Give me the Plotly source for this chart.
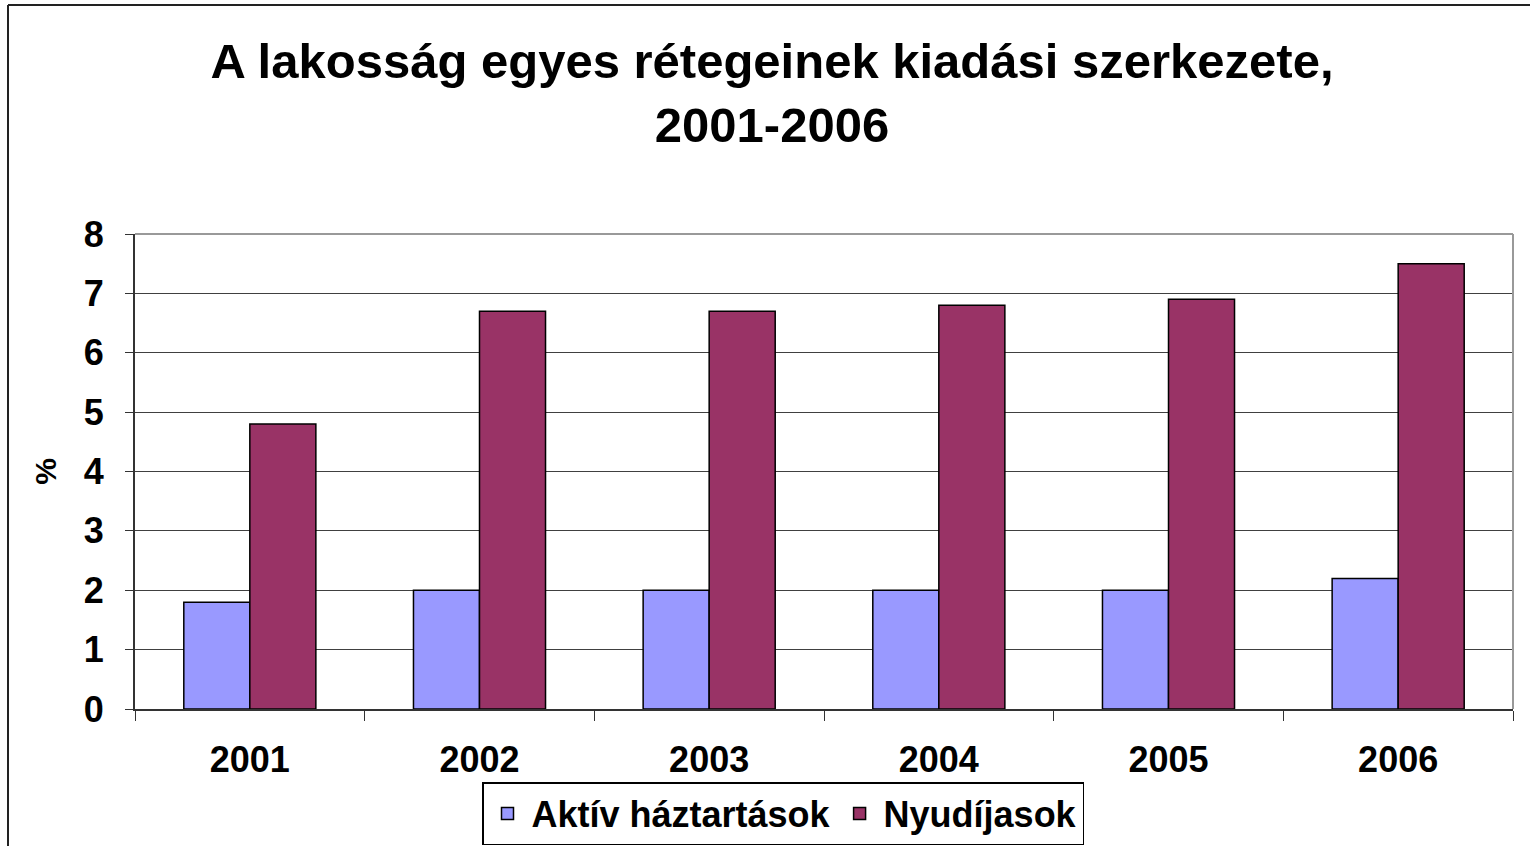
import plotly.graph_objects as go

years = ["2001", "2002", "2003", "2004", "2005", "2006"]
aktiv = [1.8, 2.0, 2.0, 2.0, 2.0, 2.2]
nyugdijas = [4.8, 6.7, 6.7, 6.8, 6.9, 7.5]
y_ticks = [0, 1, 2, 3, 4, 5, 6, 7, 8]

FONT = "Liberation Sans, Arial, sans-serif"

fig = go.Figure()
fig.add_trace(go.Bar(name="Aktív háztartások", x=years, y=aktiv,
                     marker=dict(color="#9999FF", line=dict(color="black", width=1.5))))
fig.add_trace(go.Bar(name="Nyudíjasok", x=years, y=nyugdijas,
                     marker=dict(color="#993366", line=dict(color="black", width=1.5))))

L, R, T, B = 135, 17, 234, 137
W, H = 1530, 846
pw, ph = W - L - R, H - T - B

def px(x):
    return (x - L) / pw

def py(y):
    return (H - B - y) / ph

fig.update_layout(
    width=W, height=H,
    margin=dict(l=L, r=R, t=T, b=B, autoexpand=False),
    paper_bgcolor="white", plot_bgcolor="white",
    barmode="group", bargap=0.425, bargroupgap=0,
    font=dict(family=FONT, color="black"),
    title=dict(text="<b>A lakosság egyes rétegeinek kiadási szerkezete,<br>2001-2006</b>",
               xref="container", x=772 / W, xanchor="center", y=1 - 78 / H, yanchor="middle",
               font=dict(size=49, family=FONT)),
    showlegend=True,
    legend=dict(orientation="h", x=px(783), xanchor="center", y=py(782), yanchor="top",
                bordercolor="black", borderwidth=1.5,
                font=dict(size=36, family=FONT, weight="bold"),
                itemwidth=38, tracegroupgap=0),
    xaxis=dict(showline=True, linecolor="#333333", linewidth=2, automargin=False,
               ticks="outside", tickson="boundaries", ticklen=10, tickcolor="#333333",
               ticklabelstandoff=18,
               tickfont=dict(size=36, family=FONT, weight="bold"), showgrid=False),
    yaxis=dict(range=[0, 8], tickvals=y_ticks, showline=True, linecolor="#333333", linewidth=2,
               ticks="outside", ticklen=8, tickcolor="#333333", automargin=False,
               ticklabelstandoff=14,
               showgrid=True, gridcolor="#404040", gridwidth=1,
               tickfont=dict(size=36, family=FONT, weight="bold"),
               title=dict(text="<b>%</b>", font=dict(size=30, family=FONT), standoff=18),
               zeroline=False),
    shapes=[
        dict(type="line", xref="paper", yref="paper", x0=1, x1=1, y0=0, y1=1,
             line=dict(color="#999999", width=2)),
        dict(type="line", xref="paper", yref="paper", x0=0, x1=1, y0=1, y1=1,
             line=dict(color="#999999", width=2)),
        dict(type="line", xref="paper", yref="paper", x0=px(8), x1=px(8), y0=py(5), y1=py(846),
             line=dict(color="#222222", width=2)),
        dict(type="line", xref="paper", yref="paper", x0=px(8), x1=px(1530), y0=py(5), y1=py(5),
             line=dict(color="#222222", width=2)),
    ],
)

fig.write_html("out.html", config={"displayModeBar": False},
               post_script="document.body.style.margin='0';document.body.style.overflow='hidden';")
